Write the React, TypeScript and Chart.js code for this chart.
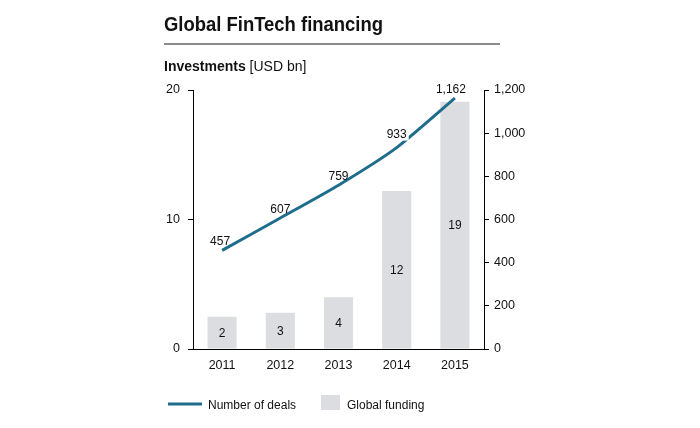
import React, { useEffect, useRef } from "react";
import { Chart, registerables } from "chart.js";

Chart.register(...registerables);

const years = ["2011", "2012", "2013", "2014", "2015"];
const funding = [2.5, 2.8, 4.0, 12.2, 19.1];
const fundingLabels = ["2", "3", "4", "12", "19"];
const deals = [457, 607, 759, 933, 1162];
const dealLabels = ["457", "607", "759", "933", "1,162"];
const leftTicks = [0, 10, 20];
const rightTicks = [0, 200, 400, 600, 800, 1000, 1200];

const FONT = '"Liberation Sans", Arial, sans-serif';
const LINE_COLOR = "#1f6d8c";
const BAR_COLOR = "#dcdde0";
const TEXT = "#111111";

const decorPlugin = {
  id: "decor",
  afterDatasetsDraw(chart: any) {
    const ctx = chart.ctx;
    ctx.save();
    // bar labels
    const barMeta = chart.getDatasetMeta(0);
    ctx.font = `12px ${FONT}`;
    ctx.fillStyle = TEXT;
    ctx.textAlign = "center";
    ctx.textBaseline = "middle";
    barMeta.data.forEach((el: any, i: number) => {
      ctx.fillText(fundingLabels[i], el.x, (el.y + el.base) / 2 + 1);
    });
    // line labels
    const lineMeta = chart.getDatasetMeta(1);
    const dx = [-2, 0, 0, 0, -4];
    const dy = [5, 5, 5, 10, 5];
    ctx.textBaseline = "alphabetic";
    lineMeta.data.forEach((el: any, i: number) => {
      const x = el.x + dx[i];
      const y = el.y - dy[i];
      if (i === 3) {
        const w = ctx.measureText(dealLabels[i]).width;
        ctx.fillStyle = "#ffffff";
        ctx.fillRect(x - w / 2 - 2, y - 11, w + 4, 14);
      }
      ctx.fillStyle = TEXT;
      ctx.fillText(dealLabels[i], x, y);
    });
    ctx.restore();
  },
  afterDraw(chart: any) {
    const ctx = chart.ctx;
    ctx.save();
    ctx.fillStyle = TEXT;
    ctx.textAlign = "left";
    ctx.textBaseline = "alphabetic";
    // title
    ctx.font = `bold 20px ${FONT}`;
    ctx.fillText("Global FinTech financing", 164, 31, 219);
    // rule
    ctx.fillStyle = "#8c8c8c";
    ctx.fillRect(164, 43, 336, 2);
    // subtitle
    ctx.fillStyle = TEXT;
    ctx.font = `bold 14px ${FONT}`;
    const part1 = "Investments";
    ctx.fillText(part1, 164, 71);
    const w1 = ctx.measureText(part1 + " ").width;
    ctx.font = `14px ${FONT}`;
    ctx.fillText("[USD bn]", 164 + w1, 71);
    // legend
    ctx.strokeStyle = LINE_COLOR;
    ctx.lineWidth = 3;
    ctx.beginPath();
    ctx.moveTo(168, 404);
    ctx.lineTo(202, 404);
    ctx.stroke();
    ctx.font = `12px ${FONT}`;
    ctx.fillStyle = TEXT;
    ctx.fillText("Number of deals", 208, 409);
    ctx.fillStyle = BAR_COLOR;
    ctx.fillRect(321, 395, 19, 15);
    ctx.fillStyle = TEXT;
    ctx.fillText("Global funding", 347, 409);
    ctx.restore();
  },
};

export default function App() {
  const ref = useRef<HTMLCanvasElement | null>(null);
  useEffect(() => {
    if (!ref.current) return;
    const chart = new Chart(ref.current, {
      type: "bar",
      data: {
        labels: years,
        datasets: [
          {
            type: "bar",
            label: "Global funding",
            data: funding,
            backgroundColor: BAR_COLOR,
            borderWidth: 0,
            yAxisID: "y",
            order: 2,
            barPercentage: 0.5,
            categoryPercentage: 1,
          },
          {
            type: "line",
            label: "Number of deals",
            data: deals,
            borderColor: LINE_COLOR,
            borderWidth: 3,
            pointRadius: 0,
            tension: 0.2,
            yAxisID: "y1",
            order: 1,
          } as any,
        ],
      },
      options: {
        responsive: false,
        animation: false,
        layout: { padding: { top: 90, left: 0, right: 0, bottom: 0 } },
        plugins: {
          legend: { display: false },
          title: { display: false },
          tooltip: { enabled: false },
        },
        scales: {
          x: {
            offset: true,
            grid: { display: false, drawOnChartArea: false, drawTicks: false },
            border: { display: true, color: "#000", width: 1 },
            ticks: {
              color: TEXT,
              font: { family: FONT, size: 12.5 },
              padding: 9,
            },
            afterFit(scale: any) {
              scale.height = 79;
            },
          },
          y: {
            position: "left",
            min: 0,
            max: 20,
            afterBuildTicks(scale: any) {
              scale.ticks = leftTicks.map((v) => ({ value: v }));
            },
            grid: {
              drawOnChartArea: false,
              drawTicks: true,
              tickLength: 5,
              color: "#000",
            },
            border: { display: true, color: "#000", width: 1 },
            ticks: {
              color: TEXT,
              font: { family: FONT, size: 12.5 },
              padding: 8,
            },
            afterFit(scale: any) {
              scale.width = 193;
            },
          },
          y1: {
            position: "right",
            min: 0,
            max: 1200,
            afterBuildTicks(scale: any) {
              scale.ticks = rightTicks.map((v) => ({ value: v }));
            },
            grid: {
              drawOnChartArea: false,
              drawTicks: true,
              tickLength: 5,
              color: "#000",
            },
            border: { display: true, color: "#000", width: 1 },
            ticks: {
              color: TEXT,
              font: { family: FONT, size: 12.5 },
              padding: 5,
              callback: (v: any) => Number(v).toLocaleString("en-US"),
            },
            afterFit(scale: any) {
              scale.width = 216;
            },
          },
        },
      },
      plugins: [decorPlugin],
    });
    return () => chart.destroy();
  }, []);
  return (
    <canvas
      ref={ref}
      width={700}
      height={428}
      style={{ position: "absolute", left: 0, top: 0, display: "block", background: "#fff" }}
    />
  );
}
